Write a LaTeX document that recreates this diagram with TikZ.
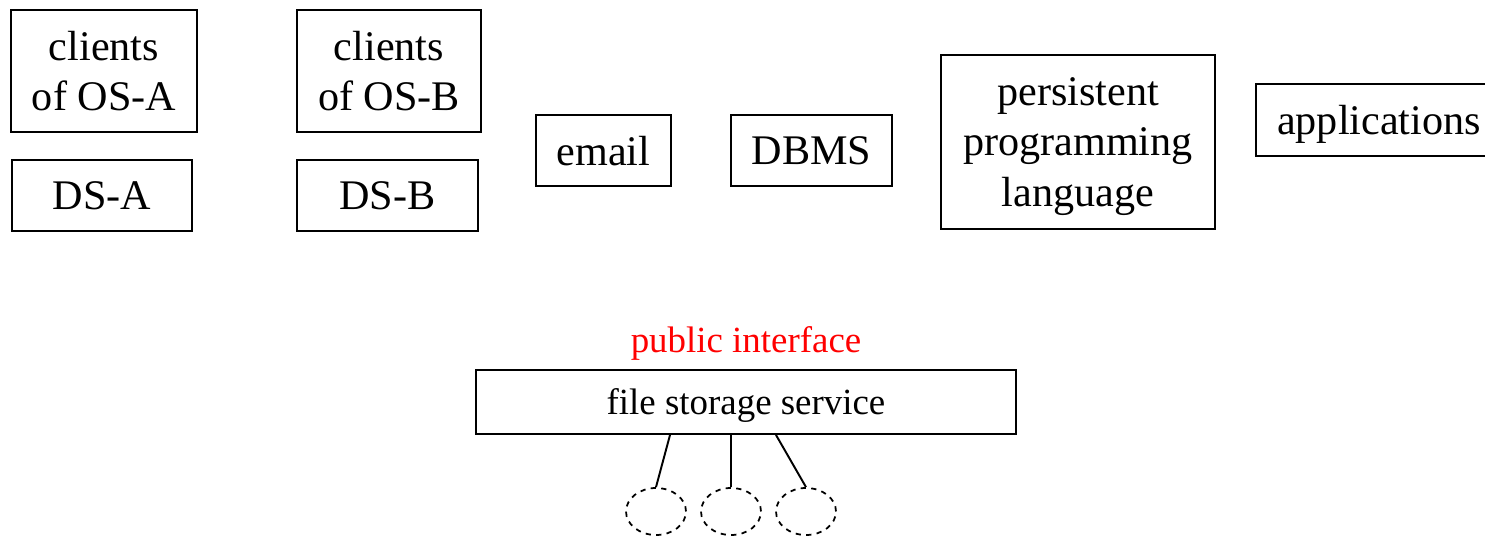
\documentclass[tikz,border=0pt]{standalone}
\usepackage{fontspec}
\setmainfont{Liberation Serif}
\usetikzlibrary{shapes.geometric}

\tikzset{
    box/.style={draw, line width=1.1pt, inner sep=0pt, align=center, text depth=0pt,
                font=\fontsize{24}{28.5}\selectfont},
    port/.style={draw, dashed, line width=1pt, ellipse, inner sep=0pt,
                 minimum width=1.2cm, minimum height=0.94cm},
}

\begin{document}
\begin{tikzpicture}[x=0.02cm, y=-0.02cm]
    \useasboundingbox (0,0) rectangle (1485,536);
    \node (cliA) [box, minimum width=3.72cm, minimum height=2.44cm] at (104,71)   {clients\\of OS-A};
    \node (dsA)  [box, minimum width=3.6cm,  minimum height=1.42cm] at (102,195.5) {DS-A};
    \node (cliB) [box, minimum width=3.68cm, minimum height=2.44cm] at (389,71)   {clients\\of OS-B};
    \node (dsB)  [box, minimum width=3.62cm, minimum height=1.42cm] at (387.5,195.5) {DS-B};
    \node (mail) [box, minimum width=2.7cm,  minimum height=1.42cm] at (603.5,150.5) {email};
    \node (dbms) [box, minimum width=3.22cm, minimum height=1.42cm] at (811.5,150.5) {DBMS};
    \node (ppl)  [box, minimum width=5.48cm, minimum height=3.48cm] at (1078,142)  {persistent\\programming\\language};
    \node (apps) [box, minimum width=4.92cm, minimum height=1.44cm] at (1379,120)  {applications};
    \node (fss)  [box, minimum width=10.8cm, minimum height=1.28cm,
                  font=\fontsize{21}{25}\selectfont] at (746,402) {file storage service};
    \node (pub)  [red, font=\fontsize{21}{25}\selectfont] at (746,343) {public interface};
    % ports below the service
    \node (e1) [port] at (656,511.5) {};
    \node (e2) [port] at (731,511.5) {};
    \node (e3) [port] at (806,511.5) {};
    \coordinate (s1) at ([xshift=-1.52cm]fss.south);
    \coordinate (s2) at ([xshift=-0.3cm]fss.south);
    \coordinate (s3) at ([xshift=0.6cm]fss.south);
    \draw[line width=1.1pt] (s1) -- (e1.north);
    \draw[line width=1.1pt] (s2) -- (e2.north);
    \draw[line width=1.1pt] (s3) -- (e3.north);
\end{tikzpicture}
\end{document}
